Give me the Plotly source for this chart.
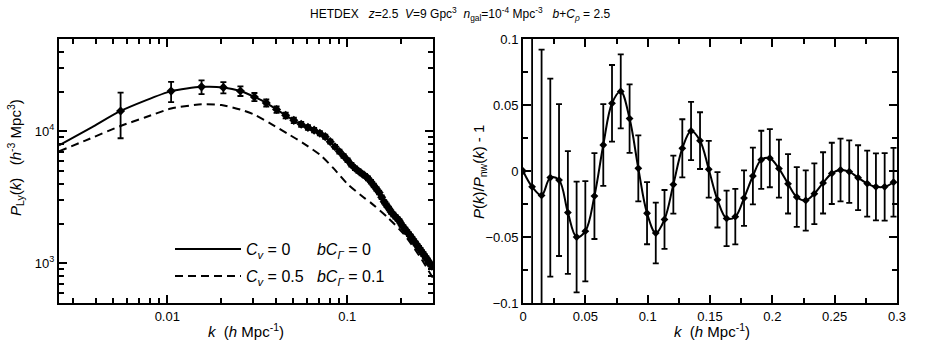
import plotly.graph_objects as go

# %%
# Left panel: P_Ly(k) band powers (solid curve + points) and the dashed model
k_pts = [0.0055, 0.0105, 0.0155, 0.0205, 0.0255, 0.0305, 0.0355, 0.0405, 0.0455, 0.0505,
         0.0555, 0.0605, 0.0655, 0.0705, 0.0755, 0.0805, 0.0855, 0.0905, 0.0955, 0.1005,
         0.1055, 0.1105, 0.1155, 0.1205, 0.1255, 0.1305, 0.1355, 0.1405, 0.1455, 0.1505,
         0.1555, 0.1605, 0.1655, 0.1705, 0.1755, 0.1805, 0.1855, 0.1905, 0.1955, 0.2005,
         0.2055, 0.2105, 0.2155, 0.2205, 0.2255, 0.2305, 0.2355, 0.2405, 0.2455, 0.2505,
         0.2555, 0.2605, 0.2655, 0.2705, 0.2755, 0.2805, 0.2855, 0.2905, 0.2955]
p_pts = [14250, 20150, 21700, 21500, 20200, 18200, 16400, 14600, 13200, 12100,
         11300, 10700, 10200, 9660, 9100, 8340, 7640, 7020, 6500, 6030,
         5580, 5250, 5000, 4790, 4600, 4400, 4150, 3890, 3660, 3440,
         3160, 2920, 2750, 2600, 2450, 2340, 2250, 2170, 2080, 1960,
         1875, 1800, 1725, 1660, 1595, 1530, 1470, 1410, 1360, 1310,
         1260, 1215, 1170, 1130, 1090, 1050, 1015, 980, 950]
p_err = [5400, 3500, 2600, 2100, 1700, 1300, 1000, 800, 660, 560,
         480, 430, 390, 360, 330, 290, 260, 240, 220, 200,
         185, 175, 165, 158, 150, 145, 135, 126, 118, 110,
         101, 93, 88, 83, 78, 75, 72, 69, 66, 63,
         60, 58, 55, 53, 51, 49, 47, 45, 44, 42,
         40, 39, 38, 36, 35, 34, 33, 32, 31]

# solid curve continues to the left edge of the panel
k_solid_left = [0.0025, 0.0038]
p_solid_left = [7830, 10700]

k_dash = [0.0025, 0.0035, 0.0055, 0.0075, 0.0105, 0.0155, 0.02, 0.0255, 0.0303, 0.0375,
          0.0465, 0.0574, 0.0711, 0.0843, 0.1, 0.1236, 0.135, 0.167, 0.206, 0.255, 0.3]
p_dash = [7050, 8500, 10970, 12700, 14870, 16000, 15800, 14600, 13400, 11440,
          9610, 8070, 6580, 5210, 4010, 3150, 2880, 2240, 1670, 1110, 770]

# %%
# Right panel: P(k)/P_nw(k) - 1
k_bao = [0, 0.0073, 0.0149, 0.0219, 0.0289, 0.036, 0.043, 0.050, 0.0573, 0.0644,
         0.0714, 0.0784, 0.0855, 0.0925, 0.0995, 0.1065, 0.1135, 0.1206, 0.1278, 0.1348,
         0.142, 0.149, 0.156, 0.1633, 0.1703, 0.1773, 0.1844, 0.1911, 0.198, 0.2053,
         0.2126, 0.2196, 0.2268, 0.2337, 0.2407, 0.2477, 0.2547, 0.2617, 0.2688, 0.2761,
         0.2831, 0.2901, 0.2972]
r_bao = [0, -0.012, -0.0185, -0.005, -0.0069, -0.0315, -0.05, -0.0456, -0.019, 0.0197,
         0.0513, 0.0603, 0.0397, 0.002, -0.032, -0.047, -0.0367, -0.0103, 0.0172, 0.0303,
         0.023, 0.0013, -0.0218, -0.0359, -0.0346, -0.0205, -0.0038, 0.0085, 0.0097, 0.0018,
         -0.0097, -0.0197, -0.0223, -0.0172, -0.009, -0.0018, 0.0008, -0.0005, -0.0051, -0.0095,
         -0.012, -0.012, -0.0085]
r_err = [None, 0.2, 0.1105, 0.075, 0.0575, 0.0465, 0.042, 0.038, 0.0325, 0.031,
         0.029, 0.028, 0.026, 0.025, 0.0235, 0.023, 0.0223, 0.022, 0.022, 0.022,
         0.0215, 0.0215, 0.021, 0.021, 0.021, 0.021, 0.0215, 0.022, 0.022, 0.022,
         0.0225, 0.0227, 0.0228, 0.023, 0.0232, 0.0232, 0.0238, 0.0237, 0.0246, 0.025,
         0.0254, 0.0256, 0.026]

# %%
font = "Liberation Sans, Arial, sans-serif"
fig = go.Figure()

# left panel
fig.add_trace(go.Scatter(
    x=k_solid_left + k_pts, y=p_solid_left + p_pts, mode="lines",
    line=dict(color="black", width=2, shape="spline", smoothing=0.6),
    name="<i>C</i><sub><i>v</i></sub> = 0      <i>bC</i><sub><i>Γ</i></sub> = 0",
    xaxis="x", yaxis="y", legend="legend"))
fig.add_trace(go.Scatter(
    x=k_pts, y=p_pts, mode="markers",
    marker=dict(symbol="diamond", size=7, color="black"),
    error_y=dict(type="data", array=p_err, color="black", thickness=1.8, width=3),
    showlegend=False, xaxis="x", yaxis="y"))
fig.add_trace(go.Scatter(
    x=k_dash, y=p_dash, mode="lines",
    line=dict(color="black", width=2, dash="8px,5px", shape="spline", smoothing=0.6),
    name="<i>C</i><sub><i>v</i></sub> = 0.5   <i>bC</i><sub><i>Γ</i></sub> = 0.1",
    xaxis="x", yaxis="y", legend="legend2"))

# right panel
fig.add_trace(go.Scatter(
    x=k_bao, y=r_bao, mode="lines+markers",
    line=dict(color="black", width=2, shape="spline", smoothing=1),
    marker=dict(symbol="diamond", size=6, color="black"),
    error_y=dict(type="data", array=r_err, color="black", thickness=1.8, width=3),
    showlegend=False, xaxis="x2", yaxis="y2"))

axis_common = dict(
    showline=True, linecolor="black", linewidth=2, mirror="ticks",
    ticks="inside", ticklen=8, tickwidth=1.5, tickcolor="black",
    showgrid=False, zeroline=False, automargin=False,
    tickfont=dict(family=font, size=13, color="black"),
)
minor_common = dict(ticks="inside", ticklen=5, tickwidth=1.5, tickcolor="black", showgrid=False)

fig.update_layout(
    width=926, height=345, autosize=False,
    margin=dict(l=0, r=0, t=0, b=0, pad=0),
    paper_bgcolor="white", plot_bgcolor="white",
    font=dict(family=font, color="black"),
    xaxis=dict(axis_common, type="log", domain=[59 / 926, 433 / 926],
               range=[-2.602, -0.523], anchor="y",
               tickvals=[0.01, 0.1], ticktext=["0.01", "0.1"],
               minor=dict(minor_common, tickvals=[0.003, 0.004, 0.005, 0.006, 0.007, 0.008, 0.009,
                                                  0.02, 0.03, 0.04, 0.05, 0.06, 0.07, 0.08, 0.09,
                                                  0.2, 0.3])),
    yaxis=dict(axis_common, type="log", domain=[1 - 303 / 345, 1 - 39 / 345],
               range=[2.699, 4.699], anchor="x",
               tickvals=[1000, 10000], ticktext=["10<sup>3</sup>", "10<sup>4</sup>"],
               minor=dict(minor_common, tickvals=[500, 600, 700, 800, 900,
                                                  2000, 3000, 4000, 5000, 6000, 7000, 8000, 9000,
                                                  20000, 30000, 40000, 50000])),
    xaxis2=dict(axis_common, domain=[523 / 926, 897 / 926], range=[0, 0.3], anchor="y2",
                tickvals=[0, 0.05, 0.1, 0.15, 0.2, 0.25, 0.3],
                ticktext=["0", "0.05", "0.1", "0.15", "0.2", "0.25", "0.3"],
                minor=dict(minor_common, tickvals=[0.025, 0.075, 0.125, 0.175, 0.225, 0.275])),
    yaxis2=dict(axis_common, domain=[1 - 303 / 345, 1 - 39 / 345], range=[-0.1, 0.1], anchor="x2",
                tickvals=[-0.1, -0.05, 0, 0.05, 0.1],
                ticktext=["\u22120.1", "\u22120.05", "0", "0.05", "0.1"],
                minor=dict(minor_common, tickvals=[-0.075, -0.025, 0.025, 0.075])),
    legend=dict(x=170 / 926, y=1 - 249 / 345, xanchor="left", yanchor="middle",
                bgcolor="rgba(0,0,0,0)", itemwidth=66,
                font=dict(family=font, size=16, color="black")),
    legend2=dict(x=170 / 926, y=1 - 276 / 345, xanchor="left", yanchor="middle",
                 bgcolor="rgba(0,0,0,0)", itemwidth=66,
                 font=dict(family=font, size=16, color="black")),
)

# title and axis titles
ann_font = dict(family=font, size=15, color="black")
fig.add_annotation(
    text="HETDEX   <i>z</i>=2.5  <i>V</i>=9 Gpc<sup>3</sup>  <i>n</i><sub>gal</sub>=10<sup>-4</sup> Mpc<sup>-3</sup>"
         "   <i>b</i>+<i>C</i><sub><i>ρ</i></sub> = 2.5",
    x=460 / 926, y=1 - 14 / 345, xref="paper", yref="paper", showarrow=False,
    xanchor="center", yanchor="middle", font=dict(family=font, size=12, color="black"))
fig.add_annotation(
    text="<i>k</i>  (<i>h</i> Mpc<sup>-1</sup>)", x=246 / 926, y=1 - 330 / 345,
    xref="paper", yref="paper", showarrow=False, xanchor="center", yanchor="middle", font=ann_font)
fig.add_annotation(
    text="<i>k</i>  (<i>h</i> Mpc<sup>-1</sup>)", x=712 / 926, y=1 - 330 / 345,
    xref="paper", yref="paper", showarrow=False, xanchor="center", yanchor="middle", font=ann_font)
fig.add_annotation(
    text="<i>P</i><sub>Ly</sub>(<i>k</i>)   (<i>h</i><sup>-3</sup> Mpc<sup>3</sup>)", x=16 / 926, y=1 - 158 / 345,
    xref="paper", yref="paper", showarrow=False, xanchor="center", yanchor="middle",
    textangle=-90, font=ann_font)
fig.add_annotation(
    text="<i>P</i>(<i>k</i>)/<i>P</i><sub>nw</sub>(<i>k</i>) - 1", x=479 / 926, y=1 - 172 / 345,
    xref="paper", yref="paper", showarrow=False, xanchor="center", yanchor="middle",
    textangle=-90, font=ann_font)

# no modebar, no body margin, no scrollbars: the figure fills the window exactly
fig.write_html(
    "out.html",
    config={"displayModeBar": False, "responsive": False},
    post_script="document.body.style.margin='0';document.body.style.overflow='hidden';",
)
